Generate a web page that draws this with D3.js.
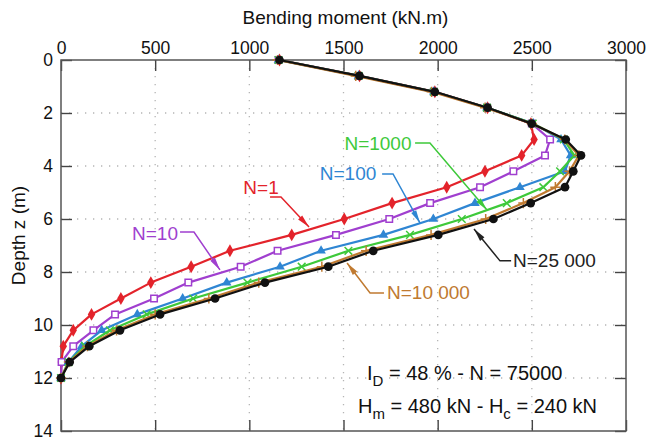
<!DOCTYPE html>
<html lang="en">
<head>
    <meta charset="UTF-8">
    <title>Bending moment profiles</title>
    <script src="https://cdn.jsdelivr.net/npm/d3@7"></script>
    <style>
        html, body { margin: 0; padding: 0; background: #fff; }
        text { font-family: "Liberation Sans", Arial, sans-serif; }
    </style>
</head>
<body>
<svg id="svg" width="646" height="440"></svg>
<script>
    // depth of the gauges along the pile (m)
    var depth = [0, 0.6, 1.2, 1.8, 2.4, 3.0, 3.6, 4.2, 4.8, 5.4, 6.0, 6.6, 7.2, 7.8, 8.4, 9.0, 9.6, 10.2, 10.8, 11.4, 12.0];

    // bending moment (kN.m)
    var mN1     = [1160, 1585, 1985, 2265, 2495, 2512, 2446, 2251, 2048, 1758, 1504, 1225, 897, 691, 477, 318, 162, 65, 12, 2, 0];
    var mN10    = [1155, 1580, 1980, 2262, 2500, 2597, 2570, 2402, 2225, 1960, 1743, 1460, 1150, 954, 676, 494, 287, 172, 65, 3, 0];
    var mN100   = [1155, 1580, 1980, 2262, 2508, 2655, 2706, 2676, 2437, 2198, 1977, 1712, 1381, 1163, 880, 646, 405, 216, 110, 39, 0];
    var mN1000  = [1155, 1580, 1980, 2262, 2505, 2670, 2725, 2650, 2561, 2367, 2128, 1853, 1526, 1278, 990, 702, 455, 260, 128, 40, 0];
    var mN10000 = [1150, 1565, 1968, 2252, 2500, 2675, 2750, 2700, 2625, 2455, 2255, 1965, 1620, 1385, 1050, 785, 500, 295, 140, 42, 0];
    var mN25000 = [1160, 1585, 1985, 2265, 2499, 2680, 2761, 2720, 2676, 2494, 2296, 2003, 1658, 1419, 1083, 818, 526, 313, 150, 46, 0];

    var xTicks = [0, 500, 1000, 1500, 2000, 2500, 3000];
    var yTicks = [0, 2, 4, 6, 8, 10, 12, 14];

    var series = [
        {name: "N=1",      values: mN1,     color: "#e3232b", marker: "diamond"},
        {name: "N=10",     values: mN10,    color: "#a03fcf", marker: "square"},
        {name: "N=100",    values: mN100,   color: "#2f86d3", marker: "triangle"},
        {name: "N=1000",   values: mN1000,  color: "#3ec93a", marker: "times"},
        {name: "N=10 000", values: mN10000, color: "#c07a30", marker: "plus"},
        {name: "N=25 000", values: mN25000, color: "#111111", marker: "circle"}
    ];

    // labels with leader lines, in data units (moment, depth)
    var labels = [
        {name: "N=1",      color: "#e3232b", at: [1062, 4.79], anchor: "middle", line: [[1110, 5.17], [1168, 5.17], [1317, 6.30]]},
        {name: "N=10",     color: "#a03fcf", at: [499, 6.53],  anchor: "middle", line: [[632, 6.49], [706, 6.49], [844, 7.92]]},
        {name: "N=100",    color: "#2f86d3", at: [1524, 4.26], anchor: "middle", line: [[1705, 4.30], [1763, 4.30], [1906, 6.15]]},
        {name: "N=1000",   color: "#3ec93a", at: [1683, 3.13], anchor: "middle", line: [[1880, 3.13], [1959, 3.13], [2262, 5.66]]},
        {name: "N=10 000", color: "#c07a30", at: [1731, 8.75], anchor: "start",  line: [[1715, 8.79], [1641, 8.79], [1519, 7.66]]},
        {name: "N=25 000", color: "#222222", at: [2400, 7.55], anchor: "start",  line: [[2390, 7.58], [2331, 7.58], [2193, 6.38]]}
    ];

    var svg = d3.select("#svg");
    var x = d3.scaleLinear().domain([0, 3000]).range([61, 626]);
    var y = d3.scaleLinear().domain([0, 14]).range([60, 431]);

    // grille pointillée
    var grid = svg.append("g").attr("stroke", "#b5b5b5").attr("stroke-width", 1.3)
        .attr("stroke-dasharray", "1.3,6.7");
    grid.selectAll(".gx").data(xTicks.slice(1, -1)).enter().append("line")
        .attr("x1", function (d) { return x(d); }).attr("x2", function (d) { return x(d); })
        .attr("y1", y(0)).attr("y2", y(14));
    grid.selectAll(".gy").data(yTicks.slice(1, -1)).enter().append("line")
        .attr("x1", x(0)).attr("x2", x(3000))
        .attr("y1", function (d) { return y(d); }).attr("y2", function (d) { return y(d); });

    // axes, ticks pointing inward on all four sides
    var tk = 11;
    var fmt = d3.format("d");
    var axTop = svg.append("g").attr("transform", "translate(0," + y(0) + ")")
        .call(d3.axisTop(x).tickValues(xTicks).tickSizeInner(-tk).tickSizeOuter(0).tickPadding(6).tickFormat(fmt));
    var axBottom = svg.append("g").attr("transform", "translate(0," + y(14) + ")")
        .call(d3.axisBottom(x).tickValues(xTicks).tickSizeInner(-tk).tickSizeOuter(0).tickFormat(""));
    var axLeft = svg.append("g").attr("transform", "translate(" + x(0) + ",0)")
        .call(d3.axisLeft(y).tickValues(yTicks).tickSizeInner(-tk).tickSizeOuter(0).tickPadding(8).tickFormat(fmt));
    var axRight = svg.append("g").attr("transform", "translate(" + x(3000) + ",0)")
        .call(d3.axisRight(y).tickValues(yTicks).tickSizeInner(-tk).tickSizeOuter(0).tickFormat(""));

    [axTop, axBottom, axLeft, axRight].forEach(function (a) {
        a.select(".domain").remove();
        a.selectAll(".tick line").attr("stroke", "#444").attr("stroke-width", 1.4);
        a.selectAll(".tick text").attr("fill", "#111").style("font-size", "17.5px")
            .style("font-family", "'Liberation Sans', Arial, sans-serif");
    });

    svg.append("rect")
        .attr("x", x(0)).attr("y", y(0))
        .attr("width", x(3000) - x(0)).attr("height", y(14) - y(0))
        .attr("fill", "none").attr("stroke", "#555").attr("stroke-width", 1.5);

    // titres des axes
    svg.append("text").attr("x", (x(0) + x(3000)) / 2 + 2).attr("y", 24)
        .attr("text-anchor", "middle").style("font-size", "19px").attr("fill", "#111")
        .text("Bending moment  (kN.m)");
    svg.append("text")
        .attr("transform", "translate(25," + (y(7) - 10) + ") rotate(-90)")
        .attr("text-anchor", "middle").style("font-size", "19px").attr("fill", "#111")
        .text("Depth z (m)");

    // courbes
    var line = d3.line()
        .x(function (d) { return x(d[0]); })
        .y(function (d) { return y(d[1]); });

    var symbolFor = {
        diamond: d3.symbol().type(d3.symbolDiamond).size(48),
        square: d3.symbol().type(d3.symbolSquare).size(42),
        triangle: d3.symbol().type(d3.symbolTriangle).size(40),
        times: d3.symbol().type(d3.symbolTimes || d3.symbolCross).size(40),
        plus: d3.symbol().type(d3.symbolPlus || d3.symbolCross).size(36),
        circle: d3.symbol().type(d3.symbolCircle).size(60)
    };

    series.forEach(function (s) {
        var pts = s.values.map(function (v, i) { return [v, depth[i]]; });
        var g = svg.append("g");
        g.append("path").datum(pts).attr("d", line)
            .attr("fill", "none").attr("stroke", s.color).attr("stroke-width", 2.2)
            .attr("stroke-linejoin", "round");
        var open = s.marker === "square";
        var stroked = open || s.marker === "times" || s.marker === "plus";
        g.selectAll("path.m").data(pts).enter().append("path")
            .attr("class", "m")
            .attr("transform", function (d) { return "translate(" + x(d[0]) + "," + y(d[1]) + ")"; })
            .attr("d", symbolFor[s.marker])
            .attr("fill", open ? "#fff" : (stroked ? "none" : s.color))
            .attr("stroke", stroked ? s.color : "none")
            .attr("stroke-width", stroked ? 1.5 : 0);
    });

    // étiquettes + flèches
    labels.forEach(function (l) {
        var g = svg.append("g");
        var pts = l.line.map(function (p) { return [x(p[0]), y(p[1])]; });
        g.append("path").attr("d", d3.line()(pts))
            .attr("fill", "none").attr("stroke", l.color).attr("stroke-width", 1.5);
        var a = pts[pts.length - 2], b = pts[pts.length - 1];
        var dx = b[0] - a[0], dy = b[1] - a[1], len = Math.sqrt(dx * dx + dy * dy);
        var ux = dx / len, uy = dy / len, hl = 13, hw = 2.8;
        var bx = b[0] - ux * hl, by = b[1] - uy * hl;
        g.append("path")
            .attr("d", "M" + b[0] + "," + b[1] +
                "L" + (bx - uy * hw) + "," + (by + ux * hw) +
                "L" + (bx + uy * hw) + "," + (by - ux * hw) + "Z")
            .attr("fill", l.color);
        g.append("text").attr("x", x(l.at[0])).attr("y", y(l.at[1]))
            .attr("dy", "0.36em").attr("text-anchor", l.anchor)
            .style("font-size", "19px").attr("fill", l.color)
            .text(l.name);
    });

    // conditions d'essai
    var t1 = svg.append("text").attr("x", x(1625)).attr("y", y(12.08))
        .style("font-size", "20px").attr("fill", "#111");
    t1.append("tspan").text("I");
    t1.append("tspan").attr("dy", 6).style("font-size", "15px").text("D");
    t1.append("tspan").attr("dy", -6).text(" = 48 % - N = 75000");

    var t2 = svg.append("text").attr("x", x(1577)).attr("y", y(13.32))
        .style("font-size", "20px").attr("fill", "#111");
    t2.append("tspan").text("H");
    t2.append("tspan").attr("dy", 6).style("font-size", "15px").text("m");
    t2.append("tspan").attr("dy", -6).text(" = 480 kN - H");
    t2.append("tspan").attr("dy", 6).style("font-size", "15px").text("c");
    t2.append("tspan").attr("dy", -6).text(" = 240 kN");
</script>
</body>
</html>
